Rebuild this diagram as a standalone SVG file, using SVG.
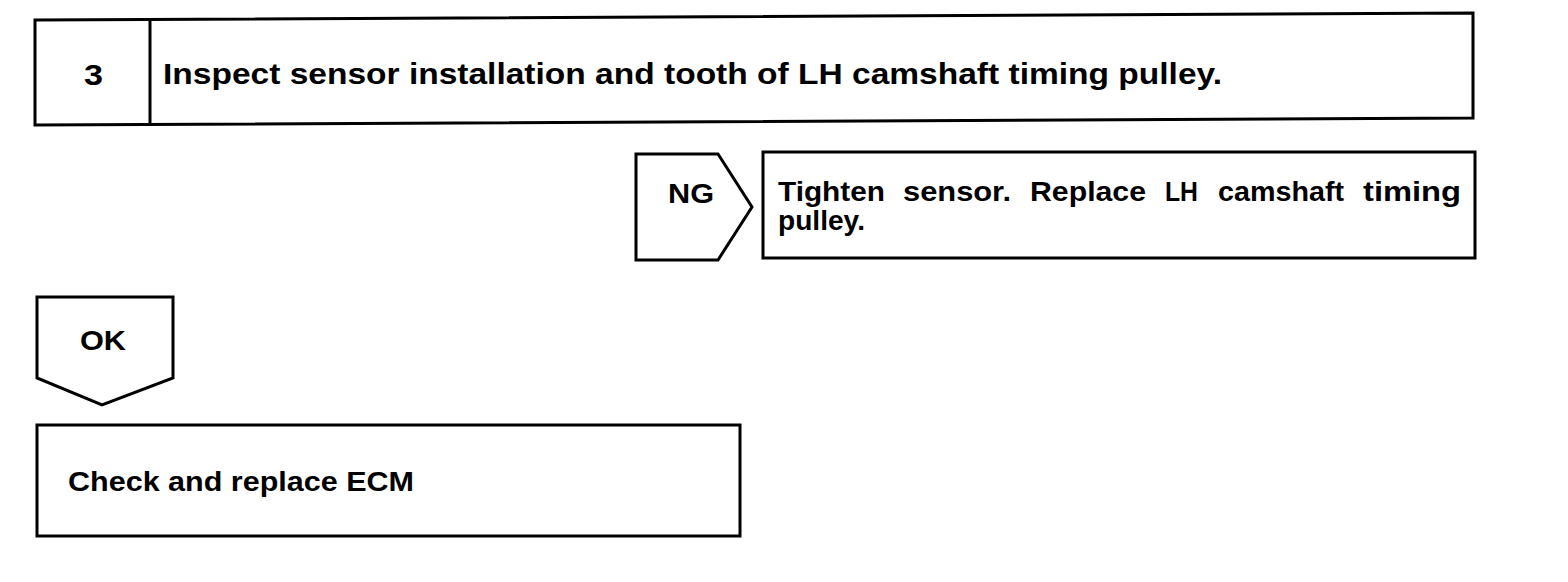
<svg xmlns="http://www.w3.org/2000/svg" width="1568" height="582" viewBox="0 0 1568 582">
<style>
.b{fill:#fff;stroke:#000;stroke-width:3;stroke-linejoin:miter}
.t{font-family:"Liberation Sans",Arial,sans-serif;font-weight:bold;fill:#000}
</style>
<rect width="1568" height="582" fill="#fff"/>
<g id="step3">
<polygon class="b" points="35,20 1473,13 1473,118 35,125"/>
<line x1="150" y1="19" x2="150" y2="124" stroke="#000" stroke-width="3"/>
<text class="t" x="84" y="85" font-size="29" textLength="19" lengthAdjust="spacingAndGlyphs">3</text>
<text class="t" x="163" y="84" font-size="29" textLength="1059" lengthAdjust="spacingAndGlyphs">Inspect sensor installation and tooth of LH camshaft timing pulley.</text>
</g>
<g id="connectors">
<g id="ng">
<polygon class="b" points="636,154 718,154 752,207 718,260 636,260"/>
<text class="t" x="668" y="203" font-size="28" textLength="46" lengthAdjust="spacingAndGlyphs">NG</text>
</g>
<g id="ok">
<polygon class="b" points="37,297 173,297 173,378 102,405 37,378"/>
<text class="t" x="80" y="350" font-size="28" textLength="46" lengthAdjust="spacingAndGlyphs">OK</text>
</g>
</g>
<g id="tighten">
<rect class="b" x="763" y="152" width="712" height="106"/>
<text class="t" y="201" font-size="28">
<tspan x="778" textLength="107" lengthAdjust="spacingAndGlyphs">Tighten</tspan>
<tspan x="903" textLength="108" lengthAdjust="spacingAndGlyphs">sensor.</tspan>
<tspan x="1030" textLength="116" lengthAdjust="spacingAndGlyphs">Replace</tspan>
<tspan x="1165" textLength="33" lengthAdjust="spacingAndGlyphs">LH</tspan>
<tspan x="1218" textLength="126" lengthAdjust="spacingAndGlyphs">camshaft</tspan>
<tspan x="1363" textLength="98" lengthAdjust="spacingAndGlyphs">timing</tspan>
</text>
<text class="t" x="778" y="230" font-size="28" textLength="87" lengthAdjust="spacingAndGlyphs">pulley.</text>
</g>
<g id="ecm">
<rect class="b" x="37" y="425" width="703" height="111"/>
<text class="t" x="68" y="491" font-size="28" textLength="346" lengthAdjust="spacingAndGlyphs">Check and replace ECM</text>
</g>
</svg>
